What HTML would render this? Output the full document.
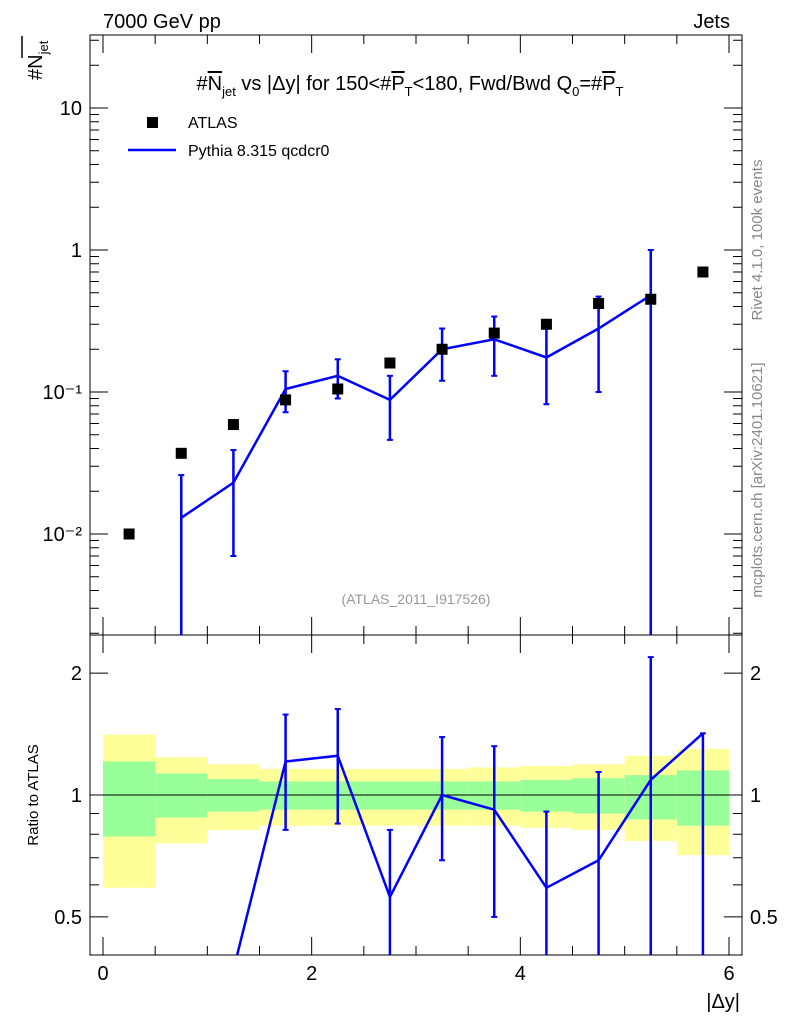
<!DOCTYPE html>
<html><head><meta charset="utf-8"><style>
body{margin:0;background:#fff;}
svg{font-family:"Liberation Sans",sans-serif;}
</style></head><body>
<svg id="c" width="786" height="1024" xmlns="http://www.w3.org/2000/svg">
<rect width="786" height="1024" fill="#fff"/>
<text x="103" y="28" font-size="20">7000 GeV pp</text>
<text x="730" y="28" font-size="20" text-anchor="end">Jets</text>
<text x="410" y="90" font-size="20" text-anchor="middle">#<tspan text-decoration="overline">N</tspan><tspan font-size="13" dy="6">jet</tspan><tspan dy="-6"> vs |Δy| for 150&lt;#</tspan><tspan text-decoration="overline">P</tspan><tspan font-size="13" dy="6">T</tspan><tspan dy="-6">&lt;180, Fwd/Bwd Q</tspan><tspan font-size="13" dy="6">0</tspan><tspan dy="-6">=#</tspan><tspan text-decoration="overline">P</tspan><tspan font-size="13" dy="6">T</tspan></text>
<text transform="translate(42,80) rotate(-90)" font-size="20">#N<tspan font-size="13" dy="6">jet</tspan></text>
<line x1="22" y1="58" x2="22" y2="36" stroke="#000" stroke-width="1.5"/>
<text transform="translate(762,240) rotate(-90)" font-size="15" fill="#888" text-anchor="middle">Rivet 4.1.0,  100k events</text>
<text transform="translate(762,480) rotate(-90)" font-size="15" fill="#888" text-anchor="middle">mcplots.cern.ch [arXiv:2401.10621]</text>
<text x="416" y="604" font-size="14" fill="#999" text-anchor="middle">(ATLAS_2011_I917526)</text>
<text transform="translate(38,795) rotate(-90)" font-size="15" text-anchor="middle">Ratio to ATLAS</text>
<text x="740" y="1008" font-size="20" text-anchor="end">|Δy|</text>
<g id="legend">
<rect x="147" y="117" width="11" height="11" fill="#000"/>
<text x="188" y="128" font-size="16">ATLAS</text>
<line x1="128" y1="150" x2="176" y2="150" stroke="#00f" stroke-width="2.5"/>
<text x="188" y="156" font-size="16">Pythia 8.315 qcdcr0</text>
</g>
<g id="g"></g>
</svg>
<script>
const centers=[0.25,0.75,1.25,1.75,2.25,2.75,3.25,3.75,4.25,4.75,5.25,5.75];
const atlas=[0.01,0.037,0.059,0.088,0.105,0.16,0.2,0.26,0.3,0.42,0.45,0.7];
const pyX=[0.75,1.25,1.75,2.25,2.75,3.25,3.75,4.25,4.75,5.25];
const pythia=[0.013,0.023,0.105,0.13,0.088,0.2,0.235,0.175,0.28,0.48];
const pyLo=[0.0005,0.007,0.072,0.09,0.046,0.12,0.13,0.082,0.1,0.0001];
const pyHi=[0.026,0.039,0.14,0.17,0.13,0.28,0.34,0.29,0.47,1.0];
const ratioX=[1.25,1.75,2.25,2.75,3.25,3.75,4.25,4.75,5.25,5.75];
const ratio=[0.37,1.21,1.25,0.56,1.0,0.92,0.59,0.69,1.09,1.42];
const rLo=[0.3,0.82,0.85,0.3,0.69,0.5,0.3,0.3,0.3,0.3];
const rHi=[0.37,1.58,1.63,0.82,1.39,1.32,0.91,1.14,2.19,1.42];
const binEdges=[0,0.5,1,1.5,2,2.5,3,3.5,4,4.5,5,5.5,6];
const yelLo=[0.59,0.76,0.82,0.84,0.84,0.84,0.84,0.84,0.83,0.82,0.77,0.71];
const yelHi=[1.41,1.24,1.19,1.16,1.16,1.16,1.16,1.17,1.18,1.19,1.25,1.3];
const grnLo=[0.79,0.88,0.91,0.92,0.92,0.92,0.92,0.92,0.91,0.9,0.87,0.84];
const grnHi=[1.21,1.13,1.095,1.08,1.08,1.08,1.08,1.08,1.09,1.1,1.12,1.15];
const xTicks=[0,2,4,6];
const yTicks=[0.01,0.1,1,10];
const yTickLabels=["10⁻²","10⁻¹","1","10"];
const rTicks=[0.5,1,2];
const rTickLabels=["0.5","1","2"];

const L=90,R=742,T=35,M=635,B=955;
const X=v=>103+v*(729-103)/6;
const Y=v=>534-(Math.log10(v)+2)*142;
const RY=v=>795-Math.log10(v)*405;
const g=document.getElementById('g');
const NS="http://www.w3.org/2000/svg";
function mk(t,a,p){const e=document.createElementNS(NS,t);for(const k in a)e.setAttribute(k,a[k]);(p||g).appendChild(e);return e;}
const clipMain=mk('clipPath',{id:'cm'});mk('rect',{x:L,y:T,width:R-L,height:M-T},clipMain);
const clipR=mk('clipPath',{id:'cr'});mk('rect',{x:L,y:M,width:R-L,height:B-M},clipR);
const bands=mk('g',{'clip-path':'url(#cr)'});


for(let i=0;i<centers.length;i++){
 const y=mk('rect',{x:X(binEdges[i]),width:X(binEdges[i+1])-X(binEdges[i]),y:RY(yelHi[i]),height:RY(yelLo[i])-RY(yelHi[i]),fill:'#ffff99'},bands);
 
 
 const gr=mk('rect',{x:X(binEdges[i]),width:X(binEdges[i+1])-X(binEdges[i]),y:RY(grnHi[i]),height:RY(grnLo[i])-RY(grnHi[i]),fill:'#99ff99'},bands);
 
 
}
const one=mk('line',{x1:L,x2:R,y1:RY(1),y2:RY(1),stroke:'#000','stroke-width':1});


const f1=mk('rect',{x:L,y:T,width:R-L,height:M-T,fill:'none',stroke:'#000','stroke-width':1});


const f2=mk('rect',{x:L,y:M,width:R-L,height:B-M,fill:'none',stroke:'#000','stroke-width':1});


for(let d=-3;d<=1;d++)for(let m=1;m<10;m++){const v=m*Math.pow(10,d);const y=Y(v);if(y<T||y>M)continue;const len=m==1?18:9;
 mk('line',{x1:L,x2:L+len,y1:y,y2:y,stroke:'#000'});mk('line',{x1:R,x2:R-len,y1:y,y2:y,stroke:'#000'});}
yTicks.forEach((v,i)=>{const t=mk('text',{x:L-8,y:Y(v)+7,'font-size':20,'text-anchor':'end'});t.textContent=yTickLabels[i];
 
 });
[0.4,0.5,0.6,0.7,0.8,0.9,1,2].forEach(v=>{const y=RY(v);if(y<M||y>B)return;const len=(v==0.5||v==1||v==2)?18:9;
 mk('line',{x1:L,x2:L+len,y1:y,y2:y,stroke:'#000'});mk('line',{x1:R,x2:R-len,y1:y,y2:y,stroke:'#000'});});
rTicks.forEach((v,i)=>{[[L-8,'end'],[R+8,'start']].forEach(([x,a])=>{const t=mk('text',{x:x,y:RY(v)+7,'font-size':20,'text-anchor':a});t.textContent=rTickLabels[i];
 
 });});
for(let v=0;v<=6.01;v+=0.5){const x=X(v);const len=(Math.abs(v%2)<0.01)?18:9;
 mk('line',{x1:x,x2:x,y1:B,y2:B-len,stroke:'#000'});mk('line',{x1:x,x2:x,y1:M,y2:M-len,stroke:'#000'});mk('line',{x1:x,x2:x,y1:T,y2:T+len,stroke:'#000'});mk('line',{x1:x,x2:x,y1:M,y2:M+len,stroke:'#000'});}
xTicks.forEach(v=>{const t=mk('text',{x:X(v),y:980,'font-size':20,'text-anchor':'middle'});t.textContent=v;
 
 });
const mg=mk('g',{'clip-path':'url(#cm)'});
const pl=mk('polyline',{points:pyX.map((x,i)=>X(x)+','+Y(pythia[i])).join(' '),fill:'none',stroke:'#00f','stroke-width':2.5},mg);


pyX.forEach((x,i)=>{const e=mk('line',{x1:X(x),x2:X(x),y1:Y(pyLo[i]),y2:Y(pyHi[i]),stroke:'#00f','stroke-width':2.5},mg);
 
 
 [pyLo[i],pyHi[i]].forEach(v=>mk('line',{x1:X(x)-3,x2:X(x)+3,y1:Y(v),y2:Y(v),stroke:'#00f','stroke-width':2},mg));});
centers.forEach((c,i)=>{const r=mk('rect',{x:X(c)-5.5,y:Y(atlas[i])-5.5,width:11,height:11,fill:'#000'},mg);
 
 });
const rg=mk('g',{'clip-path':'url(#cr)'});
const rl=mk('polyline',{points:ratioX.map((x,i)=>X(x)+','+RY(ratio[i])).join(' '),fill:'none',stroke:'#00f','stroke-width':2.5},rg);


ratioX.forEach((x,i)=>{const e=mk('line',{x1:X(x),x2:X(x),y1:RY(rLo[i]),y2:RY(rHi[i]),stroke:'#00f','stroke-width':2.5},rg);
 
 
 [rLo[i],rHi[i]].forEach(v=>mk('line',{x1:X(x)-3,x2:X(x)+3,y1:RY(v),y2:RY(v),stroke:'#00f','stroke-width':2},rg));});
</script>
</body></html>
